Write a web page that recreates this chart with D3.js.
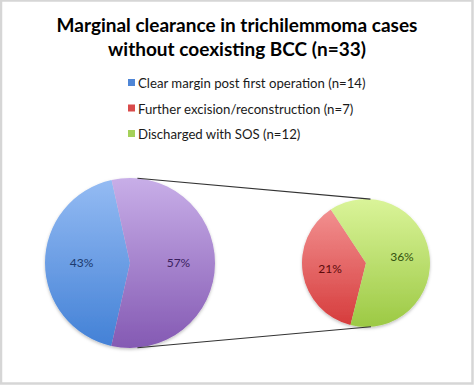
<!DOCTYPE html>
<meta charset="utf-8">
<style>
body{margin:0;background:#fff;}
text{font-family:Lato,"Open Sans",sans-serif;}
.title{font-size:19px;font-weight:bold;text-anchor:middle;fill:#000;}
.legend text{font-size:13.2px;fill:#1a1a1a;}
.lbl{font-size:12px;text-anchor:middle;}
</style>
<body>
<script src="https://d3js.org/d3.v7.min.js"></script>
<script>

var titleLines=["Marginal clearance in trichilemmoma cases","without coexisting BCC (n=33)"];
var categories=["Clear margin post first operation (n=14)","Further excision/reconstruction (n=7)","Discharged with SOS (n=12)"];
var mainNames=["Clear margin","Other"];
var mainValues=[43,57];
var subNames=["Further excision","Discharged"];
var subValues=[21,36];

var W=474,H=385;
var svg=d3.select("body").append("svg").attr("width",W).attr("height",H);
var defs=svg.append("defs");

// gradients, light at top to darker at bottom
var grads={blue:["#94bbf3","#4381d6"],purple:["#c8aee8","#8459b3"],red:["#f29090","#d63c3c"],green:["#daf499","#9cc944"]};
Object.keys(grads).forEach(function(k){
	var g=defs.append("linearGradient").attr("id","g-"+k).attr("x1",0).attr("y1",0).attr("x2",0).attr("y2",1);
	g.append("stop").attr("offset","0%").attr("stop-color",grads[k][0]);
	g.append("stop").attr("offset","100%").attr("stop-color",grads[k][1]);
});
var f=defs.append("filter").attr("id","shadow").attr("x","-10%").attr("y","-10%").attr("width","120%").attr("height","125%");
f.append("feDropShadow").attr("dx",0).attr("dy",1.5).attr("stdDeviation",1.5).attr("flood-color","#000").attr("flood-opacity",0.25);

// frame
svg.append("rect").attr("x",1).attr("y",0.5).attr("width",W-2.5).attr("height",H-2)
	.attr("fill","none").attr("stroke","#d6d6d6").attr("stroke-width",2.5);

svg.selectAll(".title").data(titleLines).enter().append("text").attr("class","title")
	.attr("x",237).attr("y",(d,i)=>32+i*23.5).text(d=>d);

var legendColors=["#4f86d6","#d94b4b","#a5d15a"];
var lg=svg.append("g").attr("class","legend");
var row=lg.selectAll("g").data(categories).enter().append("g")
	.attr("transform",(d,i)=>"translate(128,"+(83+i*25.5)+")");
row.append("rect").attr("x",0).attr("y",-4).attr("width",7).attr("height",7).attr("fill",(d,i)=>legendColors[i]);
row.append("text").attr("x",10).attr("y",5).text(d=>d);

var deg=Math.PI/180;
var main={cx:130,cy:263,r:85,start:192.7,fills:["url(#g-blue)","url(#g-purple)"],lab:["#1c3a6e","#3b1f5e"]};
var sub={cx:366,cy:263,r:64,start:194,fills:["url(#g-red)","url(#g-green)"],lab:["#5c0a0a","#34520e"]};

function drawPie(cfg,values){
	var pie=d3.pie().sort(null).startAngle(cfg.start*deg).endAngle((cfg.start+360)*deg);
	var arcs=pie(values);
	var arc=d3.arc().innerRadius(0).outerRadius(cfg.r);
	var lblArc=d3.arc().innerRadius(cfg.r*0.57).outerRadius(cfg.r*0.57);
	var g=svg.append("g").attr("transform","translate("+cfg.cx+","+cfg.cy+")");
	g.append("g").attr("filter","url(#shadow)").selectAll("path").data(arcs).enter().append("path")
		.attr("d",arc).attr("fill",(d,i)=>cfg.fills[i]);
	g.selectAll(".lbl").data(arcs).enter().append("text").attr("class","lbl")
		.attr("transform",function(d){var c=lblArc.centroid(d);return "translate("+c[0]+","+(c[1]+4)+")";})
		.attr("fill",(d,i)=>cfg.lab[i]).text(d=>d.value+"%");
}
drawPie(main,mainValues);
drawPie(sub,subValues);

// connector lines between the pies
function onCircle(cfg,a){return [cfg.cx+cfg.r*Math.sin(a*deg),cfg.cy-cfg.r*Math.cos(a*deg)];}
var links=[[onCircle(main,5),onCircle(sub,4)],[onCircle(main,175),onCircle(sub,175.5)]];
svg.selectAll(".link").data(links).enter().append("line").attr("class","link")
	.attr("x1",d=>d[0][0]).attr("y1",d=>d[0][1]).attr("x2",d=>d[1][0]).attr("y2",d=>d[1][1])
	.attr("stroke","#333").attr("stroke-width",1.1);
</script>
</body>
</html>
